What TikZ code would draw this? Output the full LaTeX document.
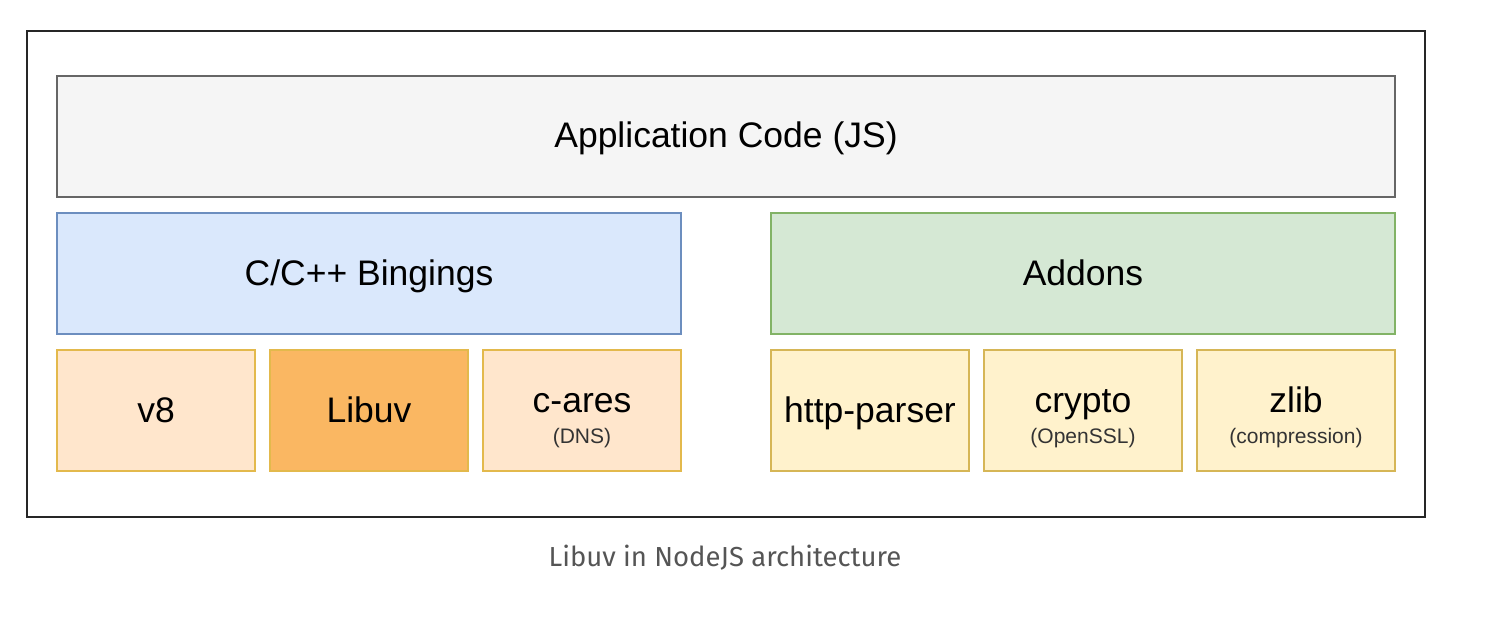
\documentclass[tikz,border=0pt]{standalone}
\usepackage{fontspec}
\setmainfont{Liberation Sans}
\newfontfamily\capfont{Fira Sans}
\definecolor{appfill}{HTML}{F5F5F5}
\definecolor{appdraw}{HTML}{666666}
\definecolor{bluefill}{HTML}{DAE8FC}
\definecolor{bluedraw}{HTML}{6C8EBF}
\definecolor{greenfill}{HTML}{D5E8D4}
\definecolor{greendraw}{HTML}{82B366}
\definecolor{orfill}{HTML}{FFE6CC}
\definecolor{ordraw}{HTML}{D79B00}
\definecolor{libfill}{HTML}{FAB762}
\definecolor{yfill}{HTML}{FFF2CC}
\definecolor{ydraw}{HTML}{D6B656}
\definecolor{capcol}{HTML}{555555}
\tikzset{
  x=1pt, y=-1pt,
  box/.style={draw, line width=1.3pt, inner sep=0pt},
  wide/.style={box, minimum height=121pt},
  small/.style={box, minimum width=198pt, minimum height=121pt},
  main/.style={anchor=base, inner sep=0pt, font=\fontsize{35.5}{40}\selectfont},
  sub/.style={anchor=base, inner sep=0pt, font=\fontsize{21}{24}\selectfont, text=black!80},
}
\begin{document}
\begin{tikzpicture}
\useasboundingbox (0,0) rectangle (1492,626);
\node[draw=black!85, line width=1.6pt, minimum width=1398pt, minimum height=486pt, inner sep=0pt] (frame) at (726,274) {};
\node[wide, fill=appfill, draw=appdraw, minimum width=1338pt] (app) at (726,136.5) {};
\node[main] (appT) at (726,147.5) {Application Code (JS)};
\node[wide, fill=bluefill, draw=bluedraw, minimum width=624pt] (bind) at (369,273.5) {};
\node[main] (bindT) at (369,285) {C/C++ Bingings};
\node[wide, fill=greenfill, draw=greendraw, minimum width=624pt] (addons) at (1083,273.5) {};
\node[main] (addonsT) at (1083,285) {Addons};
\node[small, fill=orfill, draw=ordraw!70] (v8) at (156,410.5) {};
\node[main] (v8T) at (156,422) {v8};
\node[small, fill=libfill, draw=ordraw!70] (libuv) at (369,410.5) {};
\node[main] (libuvT) at (369,422) {Libuv};
\node[small, fill=orfill, draw=ordraw!70] (cares) at (582,410.5) {};
\node[main] (caresT) at (582,412) {c-ares};
\node[sub] (caresS) at (582,443) {(DNS)};
\node[small, fill=yfill, draw=ydraw] (http) at (870,410.5) {};
\node[main] (httpT) at (870,422) {http-parser};
\node[small, fill=yfill, draw=ydraw] (crypto) at (1083,410.5) {};
\node[main] (cryptoT) at (1083,412) {crypto};
\node[sub] (cryptoS) at (1083,443) {(OpenSSL)};
\node[small, fill=yfill, draw=ydraw] (zlib) at (1296,410.5) {};
\node[main] (zlibT) at (1296,412) {zlib};
\node[sub] (zlibS) at (1296,443) {(compression)};
\node[anchor=base, inner sep=0pt, font=\capfont\fontsize{27.5}{30}\selectfont, text=capcol] (cap) at (725,566) {Libuv in NodeJS architecture};
\end{tikzpicture}
\end{document}
